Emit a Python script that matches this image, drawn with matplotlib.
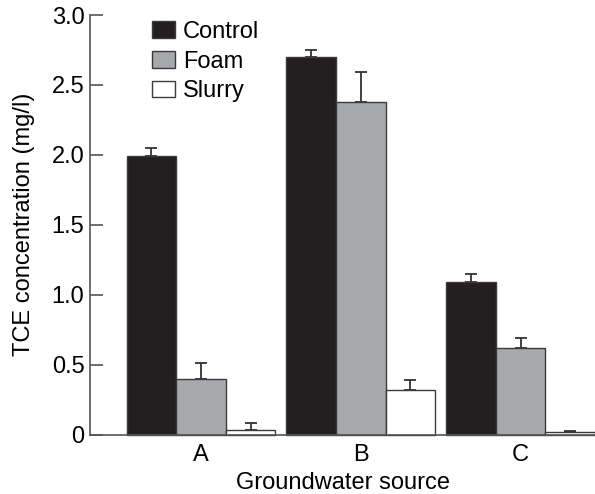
import matplotlib
matplotlib.use("Agg")
import matplotlib.pyplot as plt
import numpy as np
from matplotlib.patches import Patch
from matplotlib.ticker import FixedLocator

plt.rcParams['font.family'] = ['Liberation Sans', 'DejaVu Sans']

sources = ["A", "B", "C"]
series = ["Control", "Foam", "Slurry"]
control = [1.99, 2.70, 1.09]
control_err = [0.06, 0.05, 0.06]
foam = [0.40, 2.38, 0.62]
foam_err = [0.11, 0.21, 0.07]
slurry = [0.035, 0.32, 0.015]
slurry_err = [0.045, 0.07, 0.012]
yticks = [0, 0.5, 1.0, 1.5, 2.0, 2.5, 3.0]
ytick_labels = ["0", "0.5", "1.0", "1.5", "2.0", "2.5", "3.0"]

colors = ["#231f20", "#a7a9ac", "#ffffff"]
edge = "#3a3a3a"
FS = 17

fig = plt.figure(figsize=(5.95, 4.94), dpi=100)
ax = fig.add_axes([90/595, (494-434.5)/494, 1 - 90/595, (434.5-15)/494])

x = np.arange(len(sources))
w = 0.31
vals = [control, foam, slurry]
errs = [control_err, foam_err, slurry_err]
for i, (v, e, c, name) in enumerate(zip(vals, errs, colors, series)):
    pos = x + (i - 1) * w
    ax.bar(pos, v, width=w, color=c, edgecolor=edge, linewidth=1.0, label=name, zorder=2, clip_on=False)
    ax.errorbar(pos, v, yerr=[np.zeros(len(v)), e], fmt='none', ecolor="#333333",
                elinewidth=1.3, capsize=4.3, capthick=1.3, zorder=1, clip_on=False)

ax.set_xlim(-0.694, 2.465)
ax.set_ylim(0, 3.0)
ax.yaxis.set_major_locator(FixedLocator(yticks))
ax.set_yticklabels(ytick_labels)
ax.set_xticks(x)
ax.set_xticklabels(sources)

for s in ["top", "right"]:
    ax.spines[s].set_visible(False)
for s in ["left", "bottom"]:
    ax.spines[s].set_color("#555555")
    ax.spines[s].set_linewidth(1.2)

ax.tick_params(axis='y', direction='in', length=9, width=1.2, color="#555555", labelsize=FS, pad=4)
ax.tick_params(axis='x', length=0, labelsize=FS, pad=7)

ax.set_ylabel("TCE concentration (mg/l)", fontsize=FS, labelpad=12)
ax.set_xlabel("Groundwater source", fontsize=FS, labelpad=4.5)

handles = [Patch(facecolor=c, edgecolor=edge, linewidth=1.0) for c in colors]
ax.legend(handles, series, loc="upper left", bbox_to_anchor=(0.123, 0.986), frameon=False,
          fontsize=FS, handlelength=0.97, handleheight=0.7, handletextpad=0.34,
          labelspacing=0.33, borderpad=0, borderaxespad=0)

fig.savefig("out.png", dpi=100)
